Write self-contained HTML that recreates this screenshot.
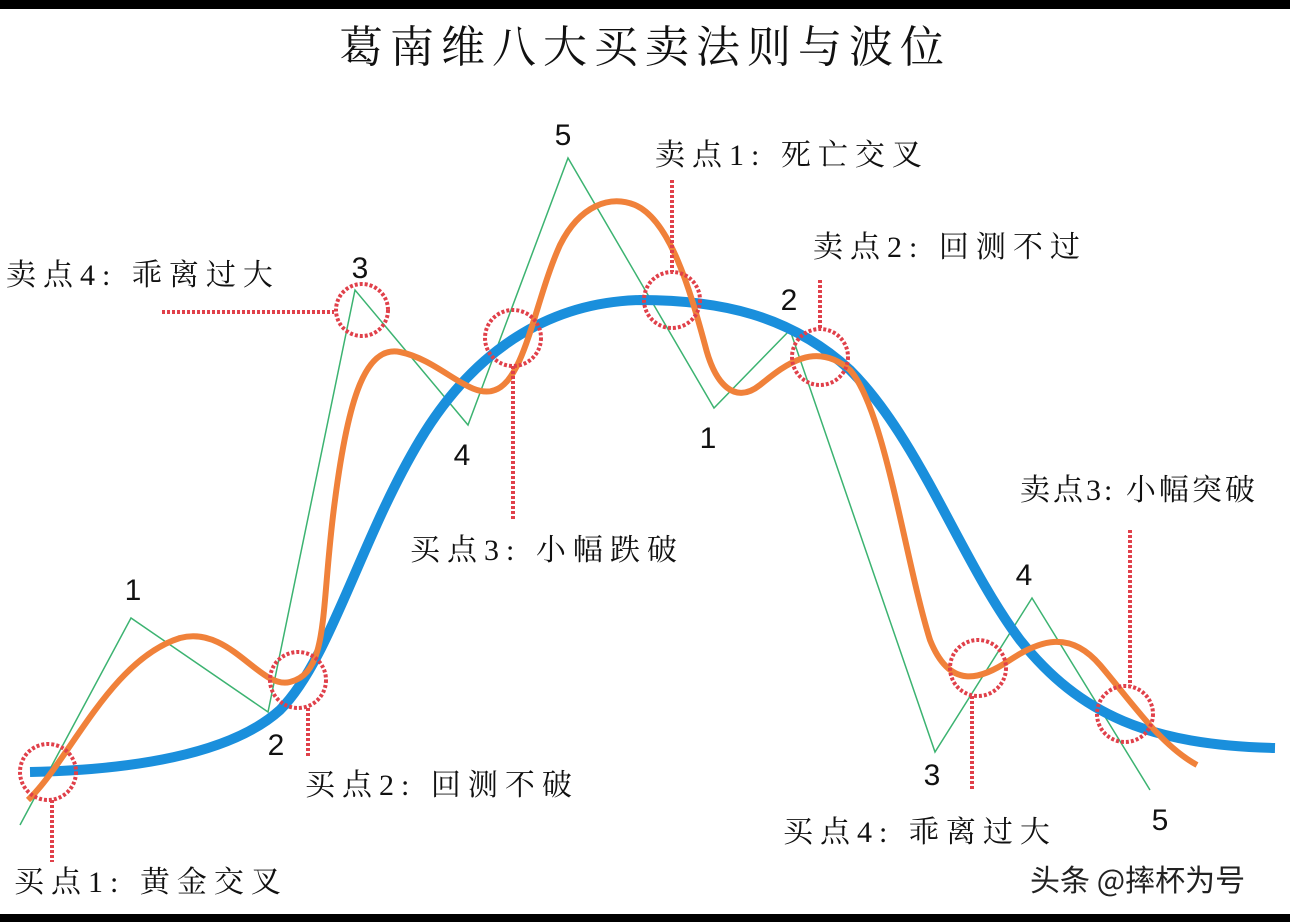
<!DOCTYPE html>
<html><head><meta charset="utf-8"><style>
body{margin:0;width:1290px;height:922px;background:#fff;overflow:hidden;position:relative}
svg{position:absolute;left:0;top:0}
</style></head><body>
<svg width="1290" height="922" viewBox="0 0 1290 922">
<rect x="0" y="0" width="1290" height="9" fill="#000"/>
<rect x="0" y="914" width="1290" height="8" fill="#000"/>
<text x="645" y="62" text-anchor="middle" font-family="'Noto Serif CJK SC',serif" font-size="44" letter-spacing="7" fill="#111">葛南维八大买卖法则与波位</text>
<polyline points="20,825 131,618 268,712 355,290 468,425 568,158 714,408 790,330 935,752 1032,598 1150,790" fill="none" stroke="#3cb371" stroke-width="1.5"/>
<path d="M30,772 C130,770 230,755 280,710 C330,660 360,540 420,440 C480,340 560,302 640,300 C720,300 790,315 850,370 C920,440 960,560 1020,640 C1080,715 1150,745 1275,748" fill="none" stroke="#1a8fdc" stroke-width="10"/>
<path d="M28,800 C70,760 110,660 180,638 C230,625 260,690 290,682 C330,672 320,610 335,500 C348,400 365,345 400,352 C440,360 470,400 495,390 C525,380 535,300 560,245 C580,205 610,195 635,205 C670,220 690,290 705,345 C715,385 735,405 760,385 C785,365 815,340 850,370 C885,410 905,560 930,640 C950,690 980,680 1010,660 C1040,640 1070,630 1100,665 C1130,700 1160,745 1197,765" fill="none" stroke="#f0813a" stroke-width="6"/>
<g fill="none" stroke="#e0404a" stroke-width="4" stroke-dasharray="3,2">
<circle cx="48" cy="772" r="28"/><circle cx="298" cy="680" r="28"/><circle cx="362" cy="310" r="26"/><circle cx="513" cy="338" r="28"/><circle cx="672" cy="300" r="28"/><circle cx="820" cy="357" r="28"/><circle cx="978" cy="668" r="28"/><circle cx="1125" cy="714" r="28"/>
<line x1="52" y1="800" x2="52" y2="862"/><line x1="308" y1="708" x2="308" y2="758"/><line x1="162" y1="312" x2="334" y2="312"/><line x1="513" y1="366" x2="513" y2="520"/><line x1="672" y1="180" x2="672" y2="272"/><line x1="820" y1="280" x2="820" y2="330"/><line x1="972" y1="696" x2="972" y2="790"/><line x1="1130" y1="530" x2="1130" y2="686"/>
</g>
<g font-family="'Liberation Sans',sans-serif" font-size="30" fill="#111" text-anchor="middle">
<text x="133" y="600">1</text><text x="276" y="755">2</text><text x="360" y="278">3</text><text x="462" y="465">4</text><text x="563" y="145">5</text><text x="708" y="448">1</text><text x="789" y="310">2</text><text x="932" y="785">3</text><text x="1024" y="585">4</text><text x="1160" y="830">5</text>
</g>
<g font-family="'Liberation Serif','Noto Serif CJK SC',serif" font-size="30" fill="#111" letter-spacing="7">
<text x="14" y="892">买点1: 黄金交叉</text>
<text x="305" y="795">买点2: 回测不破</text>
<text x="410" y="560">买点3: 小幅跌破</text>
<text x="783" y="842">买点4: 乖离过大</text>
<text x="655" y="165">卖点1: 死亡交叉</text>
<text x="813" y="257">卖点2: 回测不过</text>
<text x="1020" y="500" letter-spacing="3">卖点3: 小幅突破</text>
<text x="6" y="285">卖点4: 乖离过大</text>
</g>
<text x="1030" y="891" font-family="'Noto Sans CJK SC',sans-serif" font-size="30" fill="#222">头条 @摔杯为号</text>
</svg>
</body></html>
